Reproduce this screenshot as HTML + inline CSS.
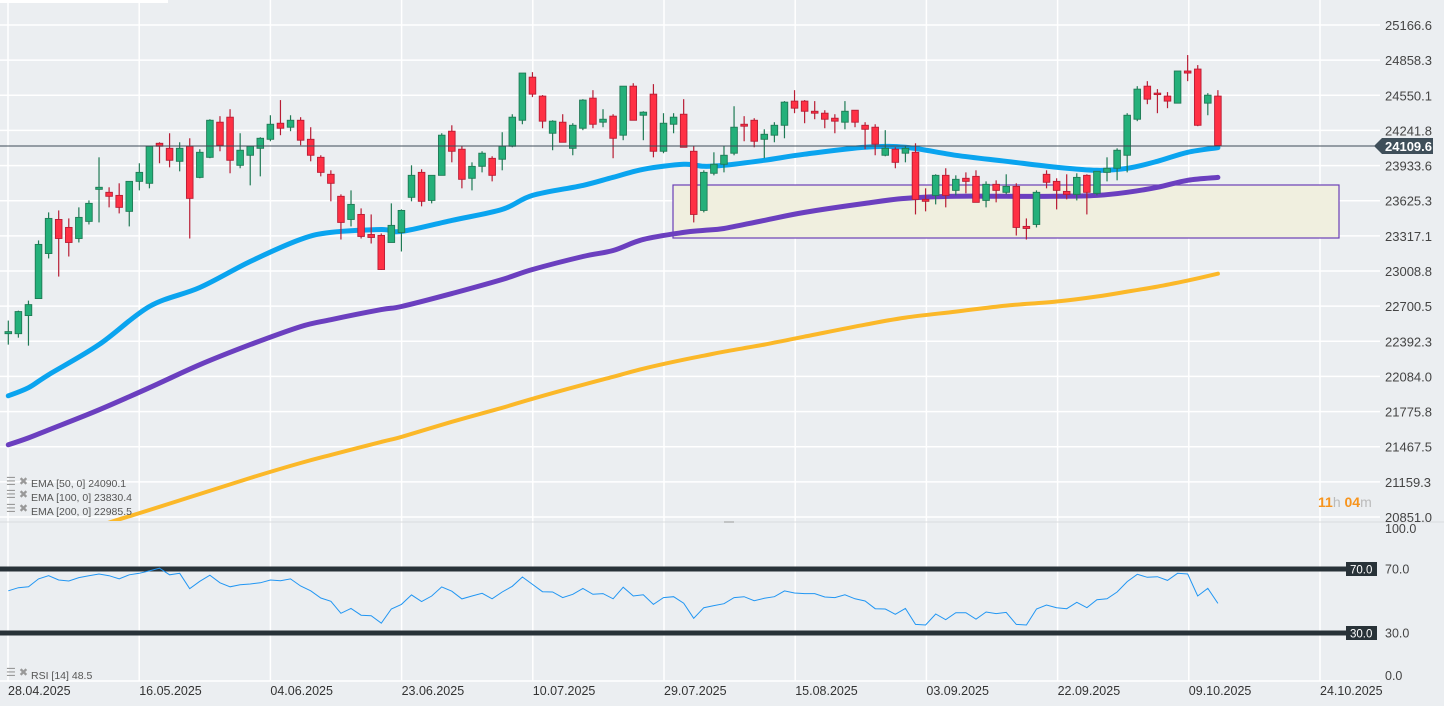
<!DOCTYPE html>
<html><head><meta charset="utf-8"><style>
body{margin:0;background:#ebeef1;overflow:hidden}
svg{display:block;font-family:"Liberation Sans",sans-serif}
</style></head><body>
<svg id="c" width="1444" height="706" xmlns="http://www.w3.org/2000/svg">
<rect width="1444" height="706" fill="#ebeef1"/>
<rect x="0" y="0" width="168" height="3" fill="#ffffff"/>
<g id="grid"></g>
<defs><clipPath id="pc"><rect x="0" y="0" width="1380" height="521"/></clipPath><clipPath id="rc"><rect x="0" y="523" width="1380" height="158"/></clipPath></defs>
<rect x="673" y="185" width="666" height="53" fill="#f0efdf" stroke="#6a3fb5" stroke-width="1.2"/>
<g id="emas" clip-path="url(#pc)"></g>
<g id="candles" clip-path="url(#pc)"></g>
<line x1="0" y1="146" x2="1375" y2="146" stroke="#3d4b57" stroke-width="1"/>
<g><polygon points="1374,146 1382,138 1433,138 1433,154 1382,154" fill="#3f4f5a"/><text x="1385" y="151" font-size="13" font-weight="bold" fill="#fff">24109.6</text></g>
<line x1="0" y1="522" x2="1444" y2="522" stroke="#d9dcdf" stroke-width="1"/>
<line x1="724" y1="522" x2="734" y2="522" stroke="#999" stroke-width="1"/>
<g id="yaxis"></g>
<g id="xaxis"></g>
<g font-size="10.5" fill="#555">
<text x="6" y="485" fill="#999" font-size="11">☰ ✖</text><text x="31" y="487">EMA [50, 0] 24090.1</text>
<text x="6" y="498" fill="#999" font-size="11">☰ ✖</text><text x="31" y="501">EMA [100, 0] 23830.4</text>
<text x="6" y="512" fill="#999" font-size="11">☰ ✖</text><text x="31" y="515">EMA [200, 0] 22985.5</text>
</g>
<text x="1318" y="507" font-size="14" font-weight="bold" fill="#f7941d">11<tspan fill="#bbb" font-weight="normal">h</tspan> 04<tspan fill="#bbb" font-weight="normal">m</tspan></text>
<g id="rsi"></g>
<g><text x="6" y="676" fill="#999" font-size="11">☰ ✖</text><text x="31" y="679" font-size="10.5" fill="#555">RSI [14] 48.5</text></g>
</svg>
<script>
const open=[22459,22459,22618,22767,23162,23461,23391,23294,23444,23725,23699,23672,23532,23795,23778,24129,24085,23971,24103,23830,24006,24314,24358,23936,24024,24085,24164,24305,24270,24331,24164,24006,23857,23664,23461,23505,23329,23321,23259,23347,23655,23874,23628,23848,24235,24077,23822,23927,23997,23989,24103,24331,24709,24543,24217,24314,24085,24261,24525,24314,24367,24200,24630,24375,24560,24059,24296,24384,24059,23540,23866,23945,24042,24296,24331,24164,24200,24287,24499,24499,24410,24393,24349,24314,24419,24287,24270,24024,24077,24042,24050,23637,23672,23848,23716,23822,23839,23628,23769,23699,23751,23400,23417,23857,23795,23707,23681,23848,23690,23874,23910,24024,24340,24630,24569,24543,24481,24763,24780,24481,24543];
const high=[22574,22661,22749,23277,23523,23540,23470,23567,23628,24006,23743,23778,23795,23954,24103,24138,24217,24138,24173,24077,24340,24367,24428,24217,24103,24182,24375,24508,24375,24358,24270,24024,23892,23681,23716,23558,23505,23338,23602,23549,23936,23901,23655,24217,24287,24103,23962,24059,24015,24226,24384,24745,24753,24552,24331,24384,24305,24516,24595,24428,24384,24630,24656,24410,24648,24393,24393,24516,24103,23892,24050,24103,24454,24367,24349,24252,24314,24499,24595,24508,24499,24419,24384,24499,24419,24314,24296,24244,24094,24103,24129,23734,23857,23910,23848,23874,23892,23795,23804,23857,23778,23470,23716,23892,23822,23857,23866,23857,23883,24006,24085,24393,24630,24674,24604,24578,24763,24903,24815,24569,24595];
const low=[22363,22424,22354,22767,23119,22960,23136,23259,23417,23435,23567,23514,23400,23716,23734,23954,23918,23883,23294,23822,23998,24059,23866,23910,23760,23839,24147,24200,24235,24112,23971,23839,23620,23285,23400,23294,23250,23018,23259,23180,23620,23576,23602,23848,23962,23734,23716,23874,23795,23892,24094,24296,24534,24261,24068,24138,24024,24244,24261,24270,23998,24156,24331,24156,24006,24042,24217,24094,23435,23523,23848,23874,24024,24147,24094,23998,24138,24173,24393,24305,24340,24261,24217,24252,24270,24077,24024,24015,23910,23962,23505,23532,23593,23567,23672,23690,23611,23567,23611,23681,23320,23285,23391,23734,23549,23637,23628,23505,23672,23795,23804,23874,24323,24472,24393,24437,24481,24674,24279,24375,24112];
const close=[22477,22653,22714,23242,23470,23294,23259,23479,23602,23743,23664,23567,23795,23874,24103,24103,23980,24085,23646,24050,24331,24112,23980,24068,24103,24173,24296,24261,24331,24156,24024,23874,23778,23435,23593,23312,23303,23022,23409,23540,23848,23620,23848,24200,24059,23813,23927,24042,23848,24103,24358,24745,24560,24323,24323,24138,24287,24508,24296,24340,24173,24630,24331,24402,24059,24305,24358,24094,23505,23874,23945,24024,24270,24279,24147,24208,24287,24490,24437,24410,24393,24340,24323,24410,24314,24252,24121,24085,23962,24085,23637,23620,23848,23672,23813,23795,23611,23769,23716,23751,23391,23382,23699,23787,23716,23681,23830,23699,23883,23910,24068,24375,24604,24516,24560,24499,24763,24745,24287,24551,24109.6];
const emaIdx=[0,2,4,9,14,19,24,29,32,37,39,44,49,52,57,60,63,67,69,71,75,79,85,89,94,99,104,108,111,114,117,120];
const ema50=[21914,21985,22099,22363,22697,22864,23092,23286,23347,23373,23356,23453,23549,23672,23760,23831,23901,23945,23927,23936,23980,24033,24094,24094,24024,23971,23918,23892,23910,23971,24050,24090];
const ema100=[21484,21545,21615,21791,21985,22187,22363,22521,22582,22670,22697,22811,22934,23022,23136,23189,23286,23347,23365,23382,23453,23523,23602,23646,23664,23664,23664,23672,23699,23743,23804,23830];
const ema200=[20429,20561,20600,20772,20912,21053,21193,21325,21396,21510,21554,21686,21809,21888,22011,22081,22152,22231,22266,22301,22363,22433,22538,22600,22653,22705,22741,22785,22828,22872,22925,22985];
const rsi=[56.4,58.3,58.9,63.8,65.8,63.1,62.5,64.6,65.8,66.9,65.8,63.9,66.4,67.3,68.8,70.5,66.4,67.3,57.7,62.3,66.1,61.4,58.9,60.2,60.6,61.4,63.1,62.7,63.8,59.4,56.4,51.9,49.8,42.3,45.4,41.1,40.8,36.1,45,47.9,53.8,49.6,53.1,58.8,56.1,51.3,53.1,54.8,51.4,55.6,59.2,65,60.4,55.8,55.6,52.1,54.2,57.9,54.2,54.6,51.4,58.6,53.1,53.9,47.9,52.1,52.7,48.6,39.2,45.8,47.1,48.3,52.1,52.7,50.2,51.7,52.7,56.3,55,54.6,54.6,52.5,52.1,53.9,51.4,50,45.2,45,41.7,45.4,35.4,35,41.9,38.3,42.7,42.7,38.6,43.1,42.1,42.9,35.4,35,45,47.5,45.8,45.2,49.2,45.8,50.8,51.4,55.6,62.1,66.7,64.8,65.2,62.9,67.3,66.9,53.1,57.9,48.5];
const priceTicks=["25166.6","24858.3","24550.1","24241.8","23933.6","23625.3","23317.1","23008.8","22700.5","22392.3","22084.0","21775.8","21467.5","21159.3","20851.0"];
const dateLabels=["28.04.2025","16.05.2025","04.06.2025","23.06.2025","10.07.2025","29.07.2025","15.08.2025","03.09.2025","22.09.2025","09.10.2025","24.10.2025"];
const rsiTicks=[100,70,30,0];

const NS="http://www.w3.org/2000/svg";
function mk(t,a,p){const e=document.createElementNS(NS,t);for(const k in a)e.setAttribute(k,a[k]);p.appendChild(e);return e;}
const X=i=>8.3+10.08*i;
const Y=p=>25+(25166.6-p)*(492/4315.6);
const R=v=>681-1.6*v;
function smooth(pts){let d='M'+pts[0][0].toFixed(1)+','+pts[0][1].toFixed(1);
 for(let i=0;i<pts.length-1;i++){const p0=pts[Math.max(0,i-1)],p1=pts[i],p2=pts[i+1],p3=pts[Math.min(pts.length-1,i+2)];
  const c1=[p1[0]+(p2[0]-p0[0])/6,p1[1]+(p2[1]-p0[1])/6],c2=[p2[0]-(p3[0]-p1[0])/6,p2[1]-(p3[1]-p1[1])/6];
  d+=' C'+c1.map(v=>v.toFixed(1)).join(',')+' '+c2.map(v=>v.toFixed(1)).join(',')+' '+p2.map(v=>v.toFixed(1)).join(',');}
 return d;}
const grid=document.getElementById('grid');
priceTicks.forEach((t,k)=>{const y=Y(parseFloat(t));
 const l=mk('line',{x1:0,x2:1380,y1:y,y2:y,stroke:'#ffffff','stroke-width':1.5},grid);
 
 
 const tx=mk('text',{x:1385,y:y+5,'font-size':13,fill:'#444'},document.getElementById('yaxis'));
 tx.textContent=t;
 
 
});
dateLabels.forEach((d,k)=>{const x=8+131.2*k;
 const l=mk('line',{x1:x,x2:x,y1:0,y2:681,stroke:'#ffffff','stroke-width':1.5},grid);
 
 
 const tx=mk('text',{x:x,y:695,'font-size':12.5,fill:'#333'},document.getElementById('xaxis'));
 tx.textContent=d;
 
 
});
const bl=mk('line',{x1:0,x2:1380,y1:681,y2:681,stroke:'#ffffff','stroke-width':1.5},grid);


// EMAs
const eg=document.getElementById('emas');
[[ema200,'#fbb829',4,'ema200-line'],[ema100,'#6b3fbf',5,'ema100-line'],[ema50,'#0aa4ef',5,'ema50-line']].forEach(s=>{
 const pts=s[0].map((v,k)=>[X(emaIdx[k]),Y(v)]);
 const pl=mk('path',{d:smooth(pts),fill:'none',stroke:s[1],'stroke-width':s[2],'stroke-linejoin':'round','stroke-linecap':'round'},eg);
 
 
});
// candles
const cg=document.getElementById('candles');
open.forEach((o,i)=>{const c=close[i];const up=c>=o;const x=X(i);
 const g=mk('g',{},cg);
 
 
 const col=up?'#1f7a55':'#b81c34';
 mk('line',{x1:x,x2:x,y1:Y(high[i]),y2:Y(low[i]),stroke:col,'stroke-width':1.2},g);
 const y1=Y(Math.max(o,c)),y2=Y(Math.min(o,c));
 mk('rect',{x:x-3.3,y:y1,width:6.6,height:Math.max(1.5,y2-y1),fill:up?'#24b07a':'#ff3044',stroke:col,'stroke-width':0.9},g);
});
// RSI
const rg=document.getElementById('rsi');
rsiTicks.forEach(v=>{const y=R(v);
 if(v==70||v==30){const l=mk('line',{x1:0,x2:1346,y1:y,y2:y,stroke:'#283238','stroke-width':5},rg);
  
  
  mk('rect',{x:1346,y:y-7,width:31,height:14,fill:'#283238'},rg);
  const b=mk('text',{x:1350,y:y+4.5,'font-size':11.5,fill:'#fff'},rg);b.textContent=v.toFixed(1);
  
  }
 const t=mk('text',{x:1385,y:(v==100?y+12:v==0?y-1:y+4.5),'font-size':12.5,fill:'#444'},rg);t.textContent=v.toFixed(1);
 
 
});
const rp=mk('polyline',{points:rsi.map((v,i)=>X(i).toFixed(1)+','+R(v).toFixed(1)).join(' '),fill:'none',stroke:'#2196f3','stroke-width':1,'clip-path':'url(#rc)'},rg);


</script>
</body></html>
